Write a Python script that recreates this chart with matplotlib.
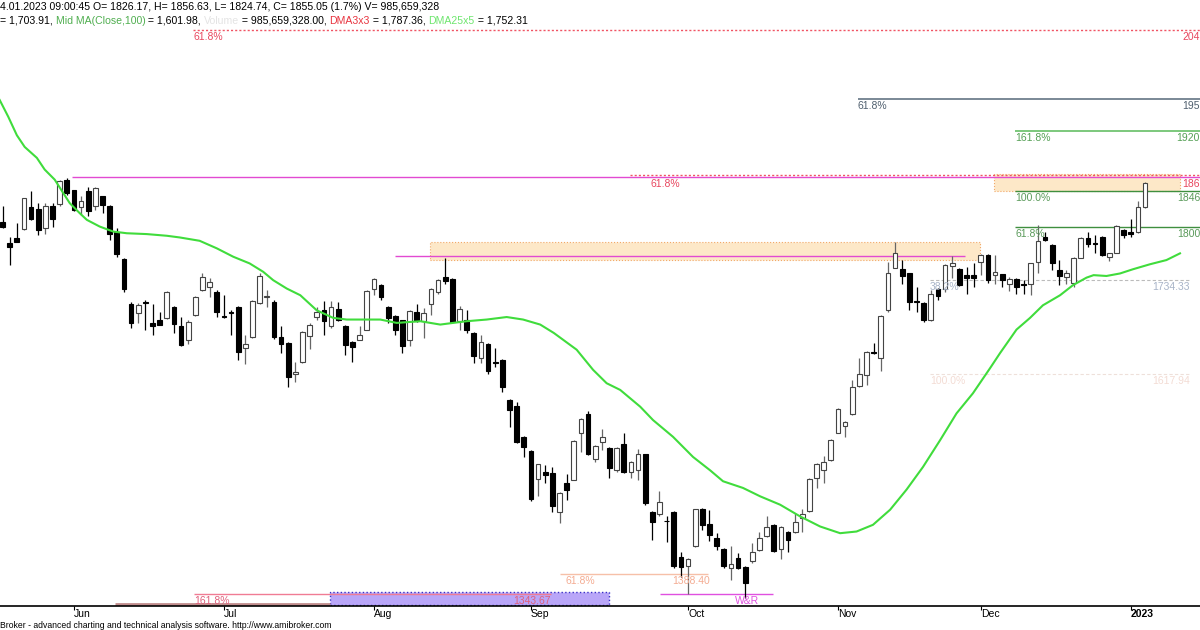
import matplotlib
matplotlib.use("Agg")

import numpy as np
import matplotlib.pyplot as plt
from matplotlib.patches import Rectangle

plt.rcParams["font.family"] = ["Liberation Sans", "DejaVu Sans"]

# daily sessions 18.05.2022 .. 04.01.2023, x = session number
opens = [1808, 1783, 1789, 1800, 1826, 1824, 1801, 1828, 1830, 1859,
         1847, 1826, 1845, 1828, 1839, 1828, 1796, 1764, 1711, 1700,
         1713, 1688, 1691, 1694, 1707, 1684, 1668, 1697, 1727, 1731,
         1725, 1696, 1701, 1707, 1658, 1671, 1712, 1719, 1713, 1671,
         1664, 1627, 1641, 1672, 1695, 1703, 1684, 1705, 1684, 1665,
         1668, 1680, 1728, 1733, 1707, 1696, 1692, 1668, 1701, 1690,
         1710, 1725, 1743, 1740, 1690, 1692, 1676, 1646, 1663, 1641,
         1644, 1596, 1589, 1552, 1535, 1502, 1510, 1509, 1462, 1497,
         1501, 1557, 1579, 1525, 1546, 1539, 1512, 1544, 1510, 1512,
         1531, 1462, 1460, 1452, 1462, 1408, 1398, 1422, 1466, 1448,
         1431, 1418, 1396, 1407, 1397, 1404, 1417, 1434, 1447, 1418,
         1439, 1438, 1455, 1463, 1503, 1512, 1524, 1557, 1565, 1579,
         1613, 1626, 1653, 1646, 1703, 1754, 1752, 1747, 1714, 1712,
         1692, 1729, 1729, 1756, 1752, 1745, 1745, 1761, 1769, 1745,
         1746, 1735, 1740, 1734, 1734, 1761, 1791, 1781, 1751, 1743,
         1736, 1766, 1789, 1783, 1791, 1767, 1772, 1799, 1797, 1796,
         1826.17]
highs = [1827, 1791, 1807, 1837, 1845, 1831, 1831, 1831, 1858, 1861,
         1847, 1839, 1850, 1850, 1839, 1829, 1801, 1765, 1713, 1712,
         1715, 1711, 1701, 1726, 1708, 1695, 1692, 1720, 1748, 1742,
         1727, 1721, 1703, 1708, 1674, 1715, 1747, 1727, 1715, 1684,
         1665, 1641, 1678, 1688, 1707, 1714, 1714, 1713, 1686, 1666,
         1684, 1727, 1742, 1734, 1708, 1697, 1692, 1703, 1711, 1706,
         1730, 1740, 1765, 1741, 1708, 1703, 1677, 1674, 1664, 1658,
         1645, 1597, 1594, 1553, 1536, 1520, 1518, 1516, 1486, 1508,
         1548, 1574, 1583, 1542, 1561, 1540, 1540, 1557, 1523, 1538,
         1532, 1463, 1487, 1457, 1463, 1414, 1407, 1466, 1467, 1465,
         1437, 1419, 1422, 1413, 1398, 1425, 1439, 1457, 1448, 1445,
         1440, 1461, 1466, 1503, 1521, 1529, 1549, 1586, 1571, 1620,
         1646, 1654, 1664, 1697, 1761, 1785, 1763, 1748, 1731, 1713,
         1727, 1730, 1758, 1768, 1753, 1755, 1759, 1770, 1770, 1769,
         1746, 1743, 1741, 1739, 1760, 1805, 1797, 1782, 1763, 1751,
         1767, 1791, 1797, 1793, 1792, 1772, 1805, 1800, 1812, 1834,
         1856.63]
lows = [1801, 1757, 1784, 1799, 1811, 1793, 1794, 1803, 1828, 1841,
        1821, 1817, 1815, 1823, 1819, 1787, 1767, 1725, 1682, 1688,
        1680, 1674, 1685, 1693, 1676, 1660, 1663, 1696, 1726, 1719,
        1695, 1694, 1674, 1644, 1639, 1670, 1711, 1707, 1669, 1652,
        1612, 1618, 1640, 1657, 1692, 1673, 1682, 1690, 1650, 1641,
        1667, 1679, 1721, 1715, 1688, 1674, 1652, 1660, 1689, 1670,
        1697, 1722, 1735, 1688, 1680, 1676, 1640, 1640, 1627, 1635,
        1606, 1564, 1545, 1528, 1476, 1481, 1497, 1462, 1449, 1477,
        1500, 1534, 1530, 1522, 1536, 1503, 1510, 1509, 1503, 1501,
        1471, 1429, 1458, 1427, 1395, 1385, 1365, 1420, 1441, 1428,
        1417, 1396, 1381, 1394, 1360, 1402, 1416, 1433, 1415, 1406,
        1415, 1437, 1439, 1462, 1491, 1497, 1523, 1556, 1552, 1578,
        1612, 1614, 1651, 1630, 1701, 1753, 1735, 1703, 1701, 1689,
        1690, 1715, 1725, 1741, 1732, 1723, 1731, 1745, 1736, 1735,
        1731, 1726, 1723, 1723, 1721, 1747, 1786, 1751, 1733, 1735,
        1731, 1765, 1778, 1771, 1768, 1762, 1771, 1789, 1791, 1795,
        1824.74]
closes = [1803, 1779, 1785, 1837, 1812, 1799, 1828, 1812, 1857, 1843,
          1823, 1834, 1821, 1849, 1829, 1794, 1770, 1728, 1688, 1709,
          1712, 1684, 1686, 1725, 1687, 1662, 1689, 1719, 1743, 1737,
          1701, 1695, 1700, 1653, 1663, 1714, 1744, 1720, 1671, 1663,
          1623, 1629, 1677, 1686, 1701, 1690, 1707, 1692, 1662, 1659,
          1674, 1726, 1740, 1719, 1694, 1680, 1660, 1702, 1690, 1700,
          1729, 1739, 1738, 1689, 1705, 1680, 1648, 1665, 1630, 1640,
          1612, 1584, 1546, 1540, 1478, 1519, 1506, 1469, 1485, 1488,
          1547, 1573, 1532, 1541, 1552, 1515, 1539, 1510, 1522, 1531,
          1473, 1450, 1474, 1451, 1398, 1397, 1406, 1466, 1447, 1435,
          1422, 1398, 1400, 1395, 1377, 1415, 1431, 1444, 1416, 1444,
          1429, 1450, 1460, 1502, 1520, 1522, 1548, 1585, 1570, 1611,
          1627, 1653, 1652, 1696, 1747, 1772, 1744, 1713, 1713, 1691,
          1723, 1720, 1757, 1759, 1733, 1741, 1741, 1769, 1739, 1749,
          1739, 1740, 1731, 1733, 1759, 1786, 1787, 1760, 1744, 1747,
          1766, 1789, 1782, 1782, 1769, 1771, 1804, 1793, 1794, 1826,
          1855.05]

month_idx = [10, 31, 52, 74, 96, 117, 137, 158]
month_lbl = ["Jun", "Jul", "Aug", "Sep", "Oct", "Nov", "Dec", "2023"]

# DMA25x5 line (session, value)
dma_x = [-0.4, 0.8, 2.0, 3.1, 4.8, 5.9, 7.3, 8.5, 9.4, 10.8, 11.8, 13.6,
         15.5, 17.4, 20.2, 23.0, 24.8, 27.6, 30.0, 32.3, 34.6, 36.5, 37.9,
         39.8, 41.7, 44.0, 46.3, 48.2, 51.0, 52.9, 55.2, 58.5, 61.3, 63.1,
         65.0, 67.8, 70.6, 72.9, 75.3, 77.2, 80.4, 82.7, 84.6, 86.5, 89.3,
         91.1, 93.9, 96.7, 99.1, 100.9, 103.7, 106.1, 108.9, 111.7, 114.5,
         117.3, 119.6, 121.9, 124.3, 126.6, 128.9, 131.3, 133.6, 135.9,
         138.3, 139.7, 142.0, 143.9, 145.7, 148.1, 149.9, 151.8, 152.8,
         154.6, 156.5, 158.3, 160.7, 163.0, 164.9]
dma_y = [1954, 1934, 1912, 1898, 1885, 1871, 1859, 1843, 1831, 1819, 1811,
         1803, 1797, 1795, 1794, 1792, 1790, 1786, 1777, 1767, 1759, 1749,
         1739, 1729, 1721, 1703, 1694, 1692, 1692, 1692, 1688, 1690, 1686,
         1688, 1690, 1692, 1695, 1692, 1686, 1676, 1656, 1632, 1616, 1608,
         1588, 1572, 1552, 1528, 1512, 1499, 1491, 1481, 1471, 1457, 1445,
         1437, 1439, 1447, 1465, 1489, 1516, 1548, 1580, 1604, 1634, 1652,
         1680, 1694, 1709, 1721, 1733, 1742, 1745, 1744, 1747, 1752, 1758,
         1763, 1771]

# fibo / support levels
lvl_top = 2038
lvl_slate = 1955
lvl_ext1618 = 1917
lvl_ext100 = 1846
lvl_ext618 = 1802
lvl_res = 1862
lvl_res_red = 1864
box_top = (1846, 1866)
box_mid = (1763, 1785)
lvl_res_mid = 1768
lvl_382 = 1739
lvl_100 = 1627
lvl_1388 = 1388.4
lvl_wr = 1364
lvl_pink = 1365
lvl_brown = 1353
box_low = (1351, 1367)

FS = 7.5
fig = plt.figure(figsize=(12, 6.3), dpi=100)
ax = fig.add_axes([0, 24 / 630, 1, 606 / 630])
ax.set_xlim(-0.36, 167.7)
ax.set_ylim(1350.1, 2073.4)
right = 167.7

# candles
x = np.arange(len(closes))
o = np.array(opens, dtype=float)
c = np.array(closes, dtype=float)
h = np.array(highs, dtype=float)
l = np.array(lows, dtype=float)
up = c >= o
dn = ~up

ax.vlines(x[up], l[up], h[up], color="#666666", lw=0.9, zorder=3)
ax.vlines(x[dn], l[dn], h[dn], color="black", lw=0.9, zorder=3)
hgt = c - o
small = np.abs(hgt) < 0.8
hgt[small] = np.where(hgt[small] >= 0, 0.8, -0.8)
ax.bar(x[up], hgt[up], bottom=o[up], width=0.66, color="white",
       edgecolor="#444444", lw=0.8, zorder=4)
ax.bar(x[dn], hgt[dn], bottom=o[dn], width=0.66, color="black",
       edgecolor="black", lw=0.8, zorder=4)

# moving average
ax.plot(dma_x, dma_y, color="#40dc3c", lw=1.5, zorder=5)


def label(xi, yi, s, col, ha="left"):
    ax.annotate(s, (xi, yi), xytext=(0, -1.5), textcoords="offset points",
                va="top", ha=ha, color=col, fontsize=FS, zorder=6)


# top red fibo
ax.hlines(lvl_top, 26.7, right, color="#f05464", lw=1, linestyles=(0, (1.5, 1.5)))
label(26.7, lvl_top, "61.8%", "#e8475f")
label(right, lvl_top, "204", "#e8475f", ha="right")

# slate
ax.hlines(lvl_slate, 119.8, right, color="#7a8896", lw=1.4)
label(119.8, lvl_slate, "61.8%", "#4f5f6e")
label(right, lvl_slate, "195", "#4f5f6e", ha="right")

# green extensions
ax.hlines(lvl_ext1618, 141.8, right, color="#72c472", lw=1.3)
label(141.8, lvl_ext1618, "161.8%", "#55a055")
label(right, lvl_ext1618, "1920", "#55a055", ha="right")

ax.add_patch(Rectangle((138.9, box_top[0]), 164.9 - 138.9, box_top[1] - box_top[0],
                       facecolor="#fde8c8", edgecolor="#f2a868", lw=0.8,
                       linestyle=":", zorder=1))
ax.hlines(lvl_res, 9.7, right, color="#e24ad2", lw=1.0, zorder=2)
ax.hlines(lvl_res_red, 87.9, right, color="#f05464", lw=1, linestyles=(0, (1.5, 1.5)), zorder=2)
label(90.8, lvl_res, "61.8%", "#e8475f")
label(right, lvl_res, "186", "#e8475f", ha="right")

ax.hlines(lvl_ext100, 141.8, right, color="#3f8f3f", lw=1.0, zorder=2)
label(141.8, lvl_ext100, "100.0%", "#5a9a5a")
label(right, lvl_ext100, "1846", "#5a9a5a", ha="right")
ax.hlines(lvl_ext618, 141.8, right, color="#3f8f3f", lw=1.0, zorder=2)
label(141.8, lvl_ext618, "61.8%", "#5a9a5a")
label(right, lvl_ext618, "1800", "#5a9a5a", ha="right")

# resistance box aug-nov
ax.add_patch(Rectangle((59.9, box_mid[0]), 136.9 - 59.9, box_mid[1] - box_mid[0],
                       facecolor="#fde8c8", edgecolor="#f2a868", lw=0.8,
                       linestyle=":", zorder=1))
ax.hlines(lvl_res_mid, 55.0, 134.8, color="#e24ad2", lw=1.0, zorder=2)

# retracement
ax.hlines(lvl_382, 129.9, 166.3, color="#bbbbbb", lw=0.8, linestyles=(0, (3, 2)), zorder=1)
label(129.9, lvl_382, "38.2%", "#a8b4c8")
label(166.3, lvl_382, "1734.33", "#a8b4c8", ha="right")
ax.hlines(lvl_100, 129.9, 166.3, color="#eee0da", lw=0.8, linestyles=(0, (3, 2)), zorder=1)
label(129.9, lvl_100, "100.0%", "#f3dcd4")
label(166.3, lvl_100, "1617.94", "#f3dcd4", ha="right")

# bottom annotations
ax.hlines(lvl_1388, 78.1, 98.8, color="#f6c0a8", lw=1.0, zorder=2)
label(78.9, lvl_1388, "61.8%", "#f4ac92")
label(93.8, lvl_1388, "1388.40", "#f4ac92")

ax.hlines(lvl_wr, 92.1, 107.9, color="#e050e0", lw=1.0, zorder=2)
ax.text(104.2, lvl_wr - 2, "W&R", color="#e050e0", fontsize=FS, ha="center", va="top")

ax.add_patch(Rectangle((45.9, box_low[0]), 84.9 - 45.9, box_low[1] - box_low[0],
                       facecolor="#b9a6f8", edgecolor="#3a30c8", lw=1.0,
                       linestyle=":", zorder=1))
ax.hlines(lvl_pink, 26.8, 76.8, color="#f07c94", lw=1.0, zorder=2)
ax.hlines(lvl_brown, 15.7, 45.9, color="#c08c8c", lw=2.0, zorder=2)
label(26.8, lvl_pink, "161.8%", "#e0607c")
label(76.8, lvl_pink, "1343.67", "#e0607c", ha="right")

# axes styling
for s in ["top", "left", "right"]:
    ax.spines[s].set_visible(False)
ax.spines["bottom"].set_color("black")
ax.spines["bottom"].set_linewidth(1.2)
ax.set_yticks([])
ax.set_xticks(month_idx)
ax.set_xticklabels(month_lbl)
ax.tick_params(axis="x", direction="out", length=3, width=0.8, pad=-1.0,
               labelsize=FS, colors="black")
for t in ax.get_xticklabels():
    t.set_ha("left")
ax.get_xticklabels()[-1].set_fontweight("bold")

# header
r = fig.canvas.get_renderer()


def color_line(parts, y):
    xx = 0.0
    for s, col in parts:
        t = fig.text(xx, y, s, color=col, fontsize=7.6, va="center", ha="left")
        xx += t.get_window_extent(renderer=r).width / fig.bbox.width


color_line([("4.01.2023 09:00:45 O= 1826.17, H= 1856.63, L= 1824.74, "
             "C= 1855.05 (1.7%) V= 985,659,328", "black")], 1 - 6.7 / 630)
color_line([("= 1,703.91, ", "black"),
            ("Mid MA(Close,100)", "#4fae4f"),
            (" = 1,601.98, ", "black"),
            ("Volume", "#e4e4e4"),
            (" = 985,659,328.00, ", "black"),
            ("DMA3x3", "#e8343f"),
            (" = 1,787.36, ", "black"),
            ("DMA25x5", "#6ee66e"),
            (" = 1,752.31", "black")], 1 - 20.7 / 630)

fig.text(0, 1 - 625.5 / 630, "Broker - advanced charting and technical analysis "
         "software. http://www.amibroker.com", fontsize=6.2, va="center",
         ha="left", color="black")

fig.savefig("out.png", dpi=100, facecolor="white")
